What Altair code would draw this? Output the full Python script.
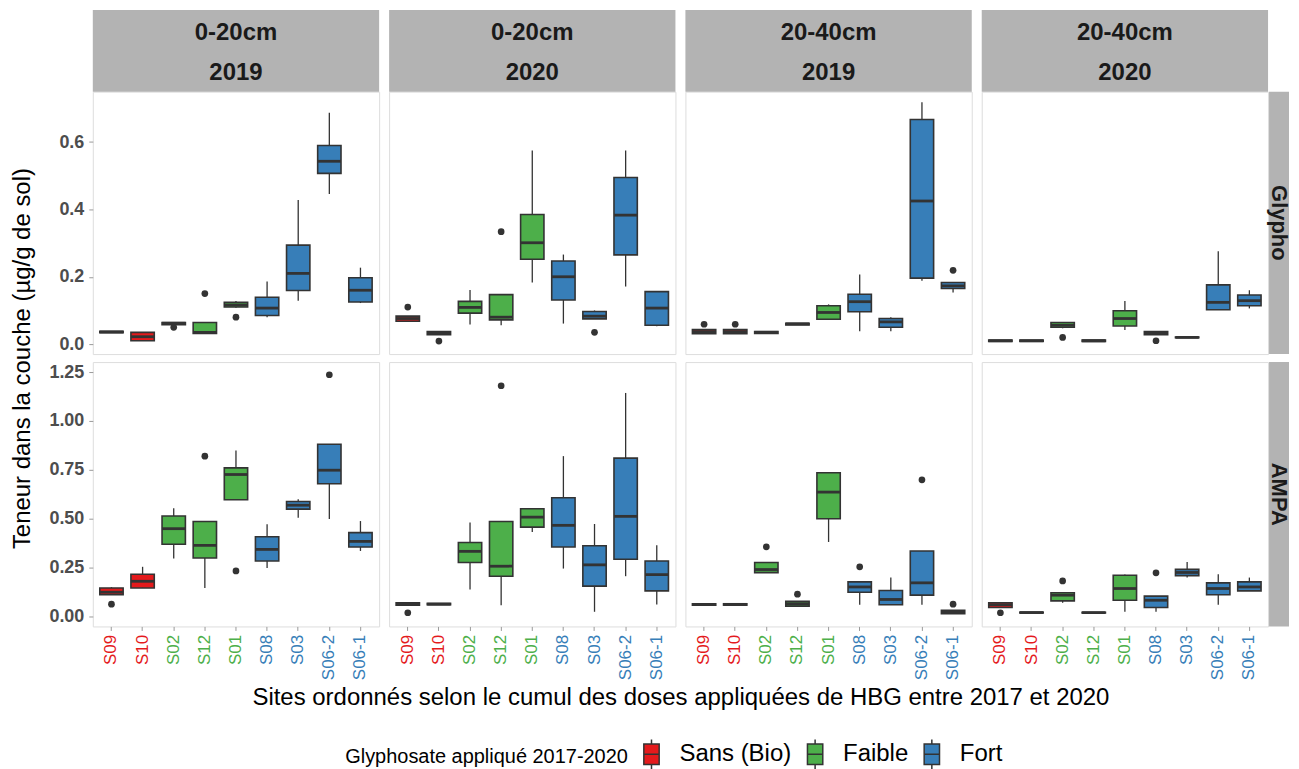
import altair as alt
import pandas as pd

SITES = ["S09", "S10", "S02", "S12", "S01", "S08", "S03", "S06-2", "S06-1"]
GROUPS = ["Sans (Bio)", "Sans (Bio)", "Faible", "Faible", "Faible", "Fort", "Fort", "Fort", "Fort"]
GROUP_ORDER = ["Sans (Bio)", "Faible", "Fort"]
GROUP_COLORS = ["#E41A1C", "#4DAF4A", "#377EB8"]

DEPTHS = ["0-20cm", "0-20cm", "20-40cm", "20-40cm"]
YEARS = ["2019", "2020", "2019", "2020"]
MEASURES = ["Glypho", "AMPA"]

# box statistics per panel, in SITES order: low whisker, q1, median, q3, high whisker
GLY_020_2019 = dict(
    lo=[0.034, 0.010, 0.058, 0.032, 0.108, 0.080, 0.129, 0.446, 0.122],
    q1=[0.034, 0.010, 0.058, 0.032, 0.110, 0.085, 0.159, 0.507, 0.125],
    med=[0.036, 0.022, 0.062, 0.035, 0.116, 0.107, 0.210, 0.543, 0.160],
    q3=[0.038, 0.035, 0.064, 0.064, 0.124, 0.139, 0.294, 0.590, 0.197],
    hi=[0.038, 0.035, 0.064, 0.064, 0.128, 0.186, 0.428, 0.687, 0.227],
)
GLY_020_2020 = dict(
    lo=[0.066, 0.028, 0.058, 0.056, 0.183, 0.061, 0.075, 0.171, 0.053],
    q1=[0.068, 0.028, 0.092, 0.072, 0.252, 0.131, 0.075, 0.265, 0.056],
    med=[0.076, 0.033, 0.109, 0.080, 0.301, 0.200, 0.083, 0.383, 0.107],
    q3=[0.083, 0.037, 0.127, 0.147, 0.385, 0.247, 0.097, 0.495, 0.156],
    hi=[0.083, 0.037, 0.161, 0.147, 0.575, 0.266, 0.100, 0.575, 0.156],
)
GLY_2040_2019 = dict(
    lo=[0.031, 0.031, 0.032, 0.057, 0.072, 0.038, 0.038, 0.188, 0.153],
    q1=[0.031, 0.031, 0.032, 0.057, 0.074, 0.096, 0.050, 0.196, 0.165],
    med=[0.037, 0.037, 0.035, 0.060, 0.094, 0.126, 0.066, 0.425, 0.173],
    q3=[0.043, 0.043, 0.037, 0.062, 0.114, 0.148, 0.076, 0.667, 0.183],
    hi=[0.043, 0.043, 0.037, 0.062, 0.118, 0.207, 0.080, 0.718, 0.183],
)
GLY_2040_2020 = dict(
    lo=[0.008, 0.008, 0.047, 0.008, 0.042, 0.027, 0.019, 0.102, 0.106],
    q1=[0.008, 0.008, 0.050, 0.008, 0.054, 0.028, 0.019, 0.102, 0.114],
    med=[0.010, 0.010, 0.056, 0.010, 0.076, 0.033, 0.020, 0.124, 0.129],
    q3=[0.012, 0.012, 0.064, 0.012, 0.099, 0.037, 0.021, 0.176, 0.146],
    hi=[0.012, 0.012, 0.064, 0.012, 0.128, 0.037, 0.021, 0.276, 0.160],
)
AMPA_020_2019 = dict(
    lo=[0.111, 0.146, 0.296, 0.146, 0.597, 0.248, 0.505, 0.498, 0.335],
    q1=[0.111, 0.146, 0.369, 0.299, 0.597, 0.284, 0.549, 0.679, 0.355],
    med=[0.124, 0.180, 0.449, 0.364, 0.726, 0.343, 0.569, 0.748, 0.384],
    q3=[0.146, 0.216, 0.514, 0.486, 0.760, 0.408, 0.588, 0.881, 0.429],
    hi=[0.150, 0.254, 0.554, 0.486, 0.849, 0.471, 0.600, 0.881, 0.488],
)
AMPA_020_2020 = dict(
    lo=[0.058, 0.060, 0.138, 0.058, 0.432, 0.245, 0.024, 0.206, 0.061],
    q1=[0.058, 0.060, 0.276, 0.206, 0.457, 0.355, 0.155, 0.293, 0.131],
    med=[0.065, 0.063, 0.333, 0.257, 0.508, 0.466, 0.264, 0.512, 0.214],
    q3=[0.070, 0.067, 0.378, 0.486, 0.551, 0.607, 0.362, 0.810, 0.284],
    hi=[0.070, 0.067, 0.480, 0.486, 0.551, 0.820, 0.473, 1.143, 0.364],
)
AMPA_2040_2019 = dict(
    lo=[0.058, 0.058, 0.224, 0.053, 0.381, 0.060, 0.060, 0.060, 0.014],
    q1=[0.058, 0.058, 0.224, 0.053, 0.500, 0.124, 0.060, 0.109, 0.014],
    med=[0.061, 0.061, 0.240, 0.065, 0.636, 0.151, 0.087, 0.172, 0.025],
    q3=[0.065, 0.065, 0.276, 0.078, 0.735, 0.177, 0.133, 0.335, 0.032],
    hi=[0.065, 0.065, 0.276, 0.078, 0.738, 0.177, 0.199, 0.335, 0.032],
)
AMPA_2040_2020 = dict(
    lo=[0.046, 0.018, 0.070, 0.018, 0.024, 0.024, 0.199, 0.060, 0.131],
    q1=[0.046, 0.018, 0.080, 0.018, 0.083, 0.046, 0.209, 0.111, 0.131],
    med=[0.060, 0.020, 0.109, 0.020, 0.143, 0.083, 0.225, 0.143, 0.151],
    q3=[0.070, 0.022, 0.121, 0.022, 0.211, 0.104, 0.241, 0.172, 0.177],
    hi=[0.070, 0.022, 0.121, 0.022, 0.215, 0.104, 0.279, 0.216, 0.199],
)

# outliers per panel: (site, value)
OUT_GLY_020_2019 = [("S02", 0.050), ("S12", 0.150), ("S01", 0.080)]
OUT_GLY_020_2020 = [("S09", 0.110), ("S10", 0.009), ("S12", 0.334), ("S03", 0.035)]
OUT_GLY_2040_2019 = [("S09", 0.059), ("S10", 0.059), ("S06-1", 0.219)]
OUT_GLY_2040_2020 = [("S02", 0.020), ("S08", 0.010)]
OUT_AMPA_020_2019 = [("S09", 0.063), ("S12", 0.820), ("S01", 0.233), ("S06-2", 1.236)]
OUT_AMPA_020_2020 = [("S09", 0.019), ("S12", 1.180)]
OUT_AMPA_2040_2019 = [("S02", 0.356), ("S12", 0.114), ("S08", 0.254), ("S06-2", 0.699), ("S06-1", 0.063)]
OUT_AMPA_2040_2020 = [("S09", 0.019), ("S02", 0.182), ("S08", 0.223)]

PANEL_STATS = [
    [GLY_020_2019, GLY_020_2020, GLY_2040_2019, GLY_2040_2020],
    [AMPA_020_2019, AMPA_020_2020, AMPA_2040_2019, AMPA_2040_2020],
]
PANEL_OUTLIERS = [
    [OUT_GLY_020_2019, OUT_GLY_020_2020, OUT_GLY_2040_2019, OUT_GLY_2040_2020],
    [OUT_AMPA_020_2019, OUT_AMPA_020_2020, OUT_AMPA_2040_2019, OUT_AMPA_2040_2020],
]

Y_DOMAINS = [[-0.0296, 0.7496], [-0.051, 1.301]]
Y_TICKS = [[0.0, 0.2, 0.4, 0.6], [0.0, 0.25, 0.5, 0.75, 1.0, 1.25]]
Y_FORMATS = [".1f", ".2f"]

X_TITLE = "Sites ordonnés selon le cumul des doses appliquées de HBG entre 2017 et 2020"
Y_TITLE = "Teneur dans la couche (µg/g de sol)"
LEGEND_TITLE = "Glyphosate appliqué 2017-2020"

FONT = "Liberation Sans"
W = 287
GAP = 10
HEIGHTS = [263, 265]
STRIP_H = 82
STRIP_W = 20
STRIP_FILL = "#B3B3B3"
DARK = "#333333"

site_color = {s: GROUP_COLORS[GROUP_ORDER.index(g)] for s, g in zip(SITES, GROUPS)}
label_expr = " : ".join(
    f"datum.value == '{s}' ? '{c}'" for s, c in site_color.items()
) + " : 'black'"

x_scale = alt.Scale(domain=SITES, paddingInner=0.25, paddingOuter=0.225)
color_scale = alt.Scale(domain=GROUP_ORDER, range=GROUP_COLORS)
band_px = 0.75 * W / (len(SITES) - 0.25 + 2 * 0.225)

legend_symbol = "M-0.75,-1H0.75V1H-0.75Z M0,-1V-1.45 M0,1V1.45 M-0.75,0H0.75"

LEGEND = alt.Legend(
    title=LEGEND_TITLE, orient="none", legendX=253, legendY=652, direction="horizontal",
    titleOrient="left", titleFontSize=20, titleFontWeight="normal", titleColor="black",
    titleFont=FONT, titleBaseline="middle", titleAnchor="middle", titleLimit=500,
    labelFontSize=24, labelFont=FONT, labelColor="black", labelLimit=300,
    symbolType=legend_symbol, symbolSize=420, symbolStrokeColor=DARK, symbolStrokeWidth=1.5,
    columnPadding=11, labelOffset=16, titlePadding=11,
)


def panel(r, c):
    st = PANEL_STATS[r][c]
    df = pd.DataFrame({"site": SITES, "group": GROUPS, **st})
    outs = PANEL_OUTLIERS[r][c]
    odf = pd.DataFrame({"site": [o[0] for o in outs], "value": [o[1] for o in outs]})
    h = HEIGHTS[r]

    if r == 1:
        x_kwargs = dict(
            labelAngle=-90, labelAlign="right", labelBaseline="middle",
            labelFontSize=17, labelColor=alt.ExprRef(label_expr), labelPadding=4,
            ticks=True, tickSize=4, tickColor="#9a9a9a", domain=False, grid=False,
            labelFont=FONT,
        )
        if c == 0:
            x_axis = alt.Axis(
                title=X_TITLE, titleFontSize=24, titleFontWeight="normal", titleColor="black",
                titleFont=FONT, titleX=(4 * W + 3 * GAP) / 2, titleY=71, titleAlign="center",
                titleBaseline="middle", titleLimit=1200, **x_kwargs,
            )
        else:
            x_axis = alt.Axis(title=None, **x_kwargs)
    else:
        x_axis = None
    if c == 0:
        y_kwargs = dict(
            values=Y_TICKS[r], format=Y_FORMATS[r], labelFontSize=18, labelFontWeight="bold",
            labelColor="#4D4D4D", tickSize=4, tickColor="#9a9a9a", domain=False, grid=False,
            labelPadding=5, labelFont=FONT,
        )
        if r == 1:
            y_axis = alt.Axis(
                title=Y_TITLE, titleFontSize=24, titleFontWeight="normal", titleColor="black",
                titleX=-70, titleY=-4, titleAngle=-90, titleAlign="center",
                titleBaseline="middle", titleFont=FONT, titleLimit=600, **y_kwargs,
            )
        else:
            y_axis = alt.Axis(title=None, **y_kwargs)
    else:
        y_axis = None

    y_scale = alt.Scale(domain=Y_DOMAINS[r], nice=False, zero=False)
    X = alt.X("site:N", scale=x_scale, axis=x_axis, sort=SITES)
    base = alt.Chart(df)

    whisk = base.mark_rule(color=DARK, strokeWidth=1.3).encode(
        x=X, y=alt.Y("lo:Q", scale=y_scale, axis=y_axis), y2="hi:Q"
    )
    box = base.mark_bar(stroke=DARK, strokeWidth=1.6).encode(
        x=X, y=alt.Y("q1:Q", scale=y_scale), y2="q3:Q",
        color=alt.Color("group:N", scale=color_scale, legend=LEGEND),
    )
    med = base.mark_tick(color=DARK, thickness=2.8, size=band_px, opacity=1).encode(
        x=X, y=alt.Y("med:Q", scale=y_scale)
    )
    pts = alt.Chart(odf).mark_circle(color=DARK, size=45, opacity=1).encode(
        x=X, y=alt.Y("value:Q", scale=y_scale)
    )
    layers = [whisk, box, med, pts]

    one = pd.DataFrame({"k": [0]})
    if r == 0:
        layers.append(
            alt.Chart(one).mark_rect(fill=STRIP_FILL).encode(
                x=alt.value(0), x2=alt.value(W), y=alt.value(-STRIP_H), y2=alt.value(0)
            )
        )
        layers.append(
            alt.Chart(one).mark_text(
                text=DEPTHS[c], font=FONT, fontSize=24, fontWeight="bold", color="#1A1A1A",
                baseline="middle", align="center",
            ).encode(x=alt.value(W / 2), y=alt.value(-59))
        )
        layers.append(
            alt.Chart(one).mark_text(
                text=YEARS[c], font=FONT, fontSize=24, fontWeight="bold", color="#1A1A1A",
                baseline="middle", align="center",
            ).encode(x=alt.value(W / 2), y=alt.value(-19))
        )
    if c == 3:
        layers.append(
            alt.Chart(one).mark_rect(fill=STRIP_FILL).encode(
                x=alt.value(W + 1), x2=alt.value(W + 1 + STRIP_W), y=alt.value(0), y2=alt.value(h)
            )
        )
        layers.append(
            alt.Chart(one).mark_text(
                text=MEASURES[r], font=FONT, fontSize=22, fontWeight="bold", color="#1A1A1A",
                baseline="middle", align="center", angle=90,
            ).encode(x=alt.value(W + 1 + STRIP_W / 2), y=alt.value(h / 2))
        )
    return alt.layer(*layers).properties(width=W, height=h)


panels = [panel(r, c) for r in range(2) for c in range(4)]

chart = alt.concat(
    *panels, columns=4, spacing=alt.RowColnumber(row=8, column=GAP), bounds="flush"
).properties(
    padding={"left": 2, "top": 0, "right": 0, "bottom": 0},
).configure_view(
    stroke="#C4C4C4", strokeWidth=1
).configure(font=FONT)

chart.save("out.html", embed_options={"renderer": "svg", "actions": False})
